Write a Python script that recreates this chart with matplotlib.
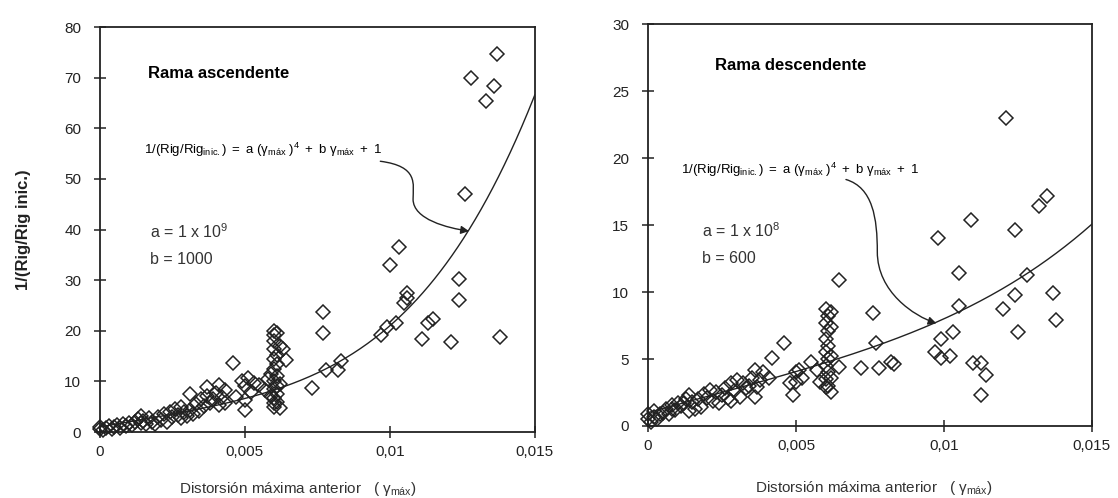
import numpy as np
import matplotlib
matplotlib.use('Agg')
import matplotlib.pyplot as plt
from matplotlib.patches import FancyArrowPatch
from matplotlib.path import Path
from matplotlib.ticker import FuncFormatter

plt.rcParams['font.family'] = ['Liberation Sans', 'DejaVu Sans']
plt.rcParams['mathtext.fontset'] = 'custom'
plt.rcParams['mathtext.rm'] = 'Liberation Sans'
plt.rcParams['mathtext.it'] = 'Liberation Sans'
plt.rcParams['mathtext.bf'] = 'Liberation Sans:bold'

# ---- datos ----
# rama ascendente
x_asc = [0.0000, 0.0000, 0.0001, 0.0002, 0.0003, 0.0004, 0.0005, 0.0006, 0.0007, 0.0008,
         0.0009, 0.0010, 0.0011, 0.0012, 0.0013, 0.0014, 0.0014, 0.0015, 0.0016, 0.0017,
         0.0018, 0.0019, 0.0020, 0.0021, 0.0022, 0.0023, 0.0024, 0.0025, 0.0026, 0.0027,
         0.0028, 0.0028, 0.0029, 0.0030, 0.0031, 0.0031, 0.0032, 0.0033, 0.0034, 0.0035,
         0.0036, 0.0037, 0.0037, 0.0038, 0.0039, 0.0040, 0.0041, 0.0041, 0.0042, 0.0043,
         0.0043, 0.0046, 0.0047, 0.0049, 0.0050, 0.0050, 0.0050, 0.0051, 0.0052, 0.0053,
         0.0055, 0.0057, 0.0058, 0.0059, 0.0059,
         0.0060, 0.0060, 0.0060, 0.0060, 0.0060, 0.0060, 0.0060, 0.0060, 0.0060, 0.0060, 0.0060,
         0.0061, 0.0061, 0.0061, 0.0061, 0.0061, 0.0061, 0.0061,
         0.0062, 0.0062, 0.0063, 0.0064, 0.0062,
         0.0073, 0.0077, 0.0077, 0.0078, 0.0082, 0.0083, 0.0097, 0.0099, 0.0100, 0.0102,
         0.0103, 0.0105, 0.0106, 0.0106, 0.0111, 0.0113, 0.0115, 0.0121, 0.0124, 0.0124,
         0.0126, 0.0128, 0.0133, 0.0136, 0.0137, 0.0138]
y_asc = [0.5, 1.0, 0.3, 0.8, 1.2, 0.6, 1.0, 1.4, 0.8, 1.6,
         1.2, 1.8, 1.4, 2.0, 2.6, 1.7, 3.2, 2.2, 1.5, 2.8,
         2.0, 1.5, 3.0, 2.4, 3.6, 2.0, 4.0, 3.0, 4.5, 3.4,
         2.8, 5.0, 4.0, 3.2, 7.6, 4.4, 3.6, 5.5, 4.2, 6.5,
         5.2, 8.8, 7.2, 5.8, 6.6, 7.8, 9.2, 5.4, 6.9, 8.4,
         5.8, 13.7, 7.0, 10.0, 9.0, 6.4, 4.3, 10.6, 8.0, 9.6,
         9.2, 8.4, 10.5, 7.2, 11.5,
         20.0, 19.2, 18.0, 16.5, 14.5, 12.5, 10.0, 8.5, 6.8, 5.8, 5.0,
         19.6, 15.2, 13.5, 11.0, 9.0, 7.5, 6.0,
         17.0, 4.7, 16.5, 14.2, 9.5,
         8.6, 23.8, 19.6, 12.2, 12.2, 14.0, 19.1, 20.8, 33.0, 21.5,
         36.6, 25.5, 27.4, 26.5, 18.3, 21.6, 22.4, 17.7, 30.2, 26.0,
         47.0, 70.0, 65.5, 68.3, 74.6, 18.7]

# rama descendente
x_desc = [0.0000, 0.0000, 0.0001, 0.0002, 0.0002, 0.0003, 0.0004, 0.0005, 0.0006, 0.0007,
          0.0008, 0.0008, 0.0009, 0.0010, 0.0011, 0.0012, 0.0013, 0.0014, 0.0014, 0.0015,
          0.0016, 0.0017, 0.0018, 0.0019, 0.0020, 0.0021, 0.0022, 0.0023, 0.0024, 0.0025,
          0.0026, 0.0027, 0.0028, 0.0028, 0.0029, 0.0030, 0.0031, 0.0032, 0.0033, 0.0034,
          0.0035, 0.0036, 0.0036, 0.0037, 0.0038, 0.0039, 0.0041, 0.0042, 0.0046, 0.0048,
          0.0049, 0.0050, 0.0050, 0.0051, 0.0052, 0.0055, 0.0057, 0.0058,
          0.0060, 0.0060, 0.0060, 0.0060, 0.0060, 0.0060, 0.0060,
          0.0061, 0.0061, 0.0061, 0.0061, 0.0061, 0.0061,
          0.0062, 0.0062, 0.0062, 0.0062, 0.0062,
          0.00645, 0.00645, 0.0072, 0.0076, 0.0077, 0.0078, 0.0082, 0.0083, 0.0097, 0.0098,
          0.0099, 0.0099, 0.0102, 0.0103, 0.0105, 0.0105, 0.0109, 0.0110, 0.01125, 0.01125,
          0.01144, 0.0120, 0.0121, 0.0124, 0.0124, 0.0125, 0.0128, 0.0132, 0.0135, 0.0137,
          0.0138]
y_desc = [0.5, 0.9, 0.3, 0.7, 1.1, 0.5, 0.9, 1.0, 1.3, 0.9,
          1.3, 1.6, 1.2, 1.7, 1.5, 1.7, 2.0, 1.1, 2.3, 1.8,
          1.3, 2.0, 1.45, 2.4, 2.1, 2.7, 1.9, 2.5, 1.7, 2.3,
          2.8, 2.1, 3.2, 1.9, 2.6, 3.4, 2.2, 3.2, 2.8, 3.0,
          3.6, 4.2, 2.2, 2.9, 3.4, 4.0, 3.55, 5.05, 6.2, 3.2,
          2.3, 3.3, 4.0, 4.2, 3.6, 4.8, 4.2, 3.3,
          8.7, 7.7, 6.5, 5.5, 4.5, 3.5, 2.9,
          8.2, 7.1, 6.0, 5.0, 4.0, 3.0,
          8.5, 7.4, 5.2, 3.6, 2.5,
          10.9, 4.4, 4.3, 8.4, 6.2, 4.3, 4.8, 4.6, 5.5, 14.0,
          6.5, 5.05, 5.2, 7.04, 11.4, 8.96, 15.4, 4.7, 4.7, 2.3,
          3.8, 8.7, 22.96, 9.8, 14.6, 7.04, 11.3, 16.4, 17.2, 9.95,
          7.9]

# parametros de ajuste indicados en el grafico
a_asc, b_asc = 1e9, 1000
a_desc, b_desc = 1e8, 600

x_ticks = [0, 0.005, 0.01, 0.015]
y_ticks_asc = [0, 10, 20, 30, 40, 50, 60, 70, 80]
y_ticks_desc = [0, 5, 10, 15, 20, 25, 30]

eq = r'$1/(Rig/Rig_{inic.})\ =\ a\ (\gamma_{máx}\ )^4\ +\ b\ \gamma_{máx}\ +\ 1$'
xlab = r'Distorsión máxima anterior   ( $\gamma_{máx}$)'


def fmt(v, pos):
    if v == 0:
        return '0'
    return ('%g' % v).replace('.', ',')


fig = plt.figure(figsize=(11.18, 4.98), dpi=100)
ax1 = fig.add_axes([0.0894, 0.1325, 0.389, 0.813])
ax2 = fig.add_axes([0.5796, 0.1446, 0.397, 0.807])

xs = np.linspace(0, 0.015, 300)

for ax, xd, yd, a, b, yt in [(ax1, x_asc, y_asc, a_asc, b_asc, y_ticks_asc),
                             (ax2, x_desc, y_desc, a_desc, b_desc, y_ticks_desc)]:
    ax.plot(xd, yd, 'D', ms=7.3, mfc='none', mec='#222222', mew=1.1, clip_on=False, zorder=3)
    ax.plot(xs, a * xs ** 4 + b * xs + 1, color='#222222', lw=1.0)
    ax.set_xlim(0, 0.015)
    ax.set_ylim(yt[0], yt[-1])
    ax.set_xticks(x_ticks)
    ax.set_yticks(yt)
    ax.xaxis.set_major_formatter(FuncFormatter(fmt))
    ax.tick_params(direction='inout', length=9, width=1.1, labelsize=11,
                   colors='#222222')
    ax.tick_params(axis='y', pad=9)
    ax.tick_params(axis='x', pad=5)
    for s in ax.spines.values():
        s.set_linewidth(1.3)
        s.set_color('#222222')
    ax.set_xlabel(xlab, fontsize=11, color='#333333')

ax1.xaxis.set_label_coords(0.455, -0.118)
ax2.xaxis.set_label_coords(0.51, -0.133)
ax1.set_ylabel('1/(Rig/Rig inic.)', fontsize=12, fontweight='bold', color='#222222', labelpad=24)

ax1.text(0.00165, 70.8, 'Rama ascendente', fontsize=12, fontweight='bold', va='center')
ax1.text(0.00153, 55.8, eq, fontsize=9.5, va='center')
ax1.text(0.00171, 39.6, r'a = 1 x 10$^9$', fontsize=11.5, va='center', color='#333333')
ax1.text(0.00171, 34.0, 'b = 1000', fontsize=11.5, va='center', color='#333333')

ax2.text(0.00225, 26.9, 'Rama descendente', fontsize=12, fontweight='bold', va='center')
ax2.text(0.0011, 19.1, eq, fontsize=9.5, va='center')
ax2.text(0.00183, 14.6, r'a = 1 x 10$^8$', fontsize=11.5, va='center', color='#333333')
ax2.text(0.00183, 12.5, 'b = 600', fontsize=11.5, va='center', color='#333333')

codes = [Path.MOVETO, Path.CURVE4, Path.CURVE4, Path.CURVE4,
         Path.CURVE4, Path.CURVE4, Path.CURVE4]
p1 = Path([(0.00967, 53.5), (0.0110, 52.5), (0.0108, 49.0), (0.0108, 46.0),
           (0.0108, 42.0), (0.0120, 40.3), (0.01273, 39.7)], codes)
p2 = Path([(0.00669, 18.4), (0.0076, 17.8), (0.00775, 15.5), (0.00775, 13.0),
           (0.00775, 10.0), (0.0090, 8.2), (0.00975, 7.66)], codes)
for ax, p in [(ax1, p1), (ax2, p2)]:
    ax.add_patch(FancyArrowPatch(path=p, arrowstyle='-|>', mutation_scale=12,
                                 color='#222222', lw=1.0, transform=ax.transData))

fig.savefig('out.png', dpi=100)
